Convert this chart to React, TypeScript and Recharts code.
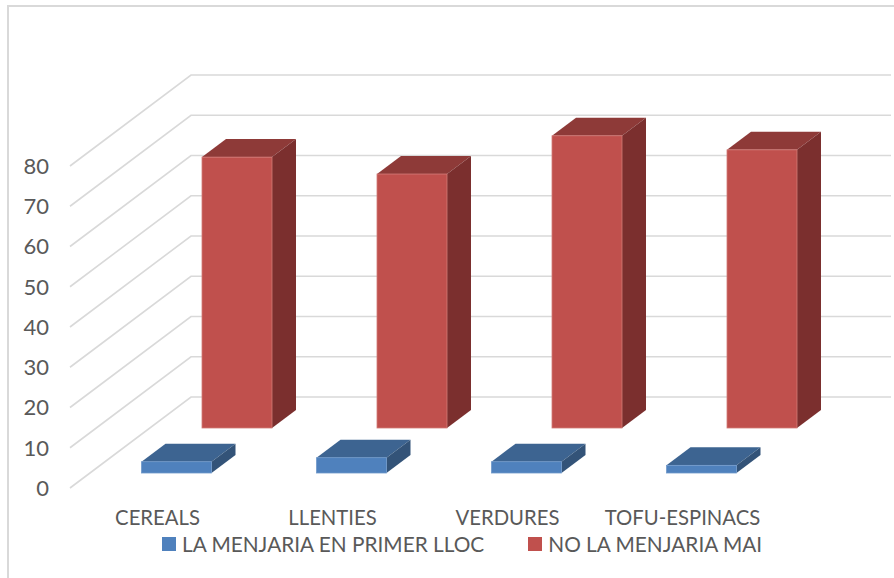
import React from "react";
import { BarChart, Bar, XAxis, YAxis, CartesianGrid, Legend } from "recharts";

const categories = ["CEREALS", "LLENTIES", "VERDURES", "TOFU-ESPINACS"];
const firstChoice = [2.8, 3.8, 2.8, 1.9];
const neverEat = [67.3, 63.1, 72.6, 69.1];
const yTicks = [0, 10, 20, 30, 40, 50, 60, 70, 80];
const seriesNames = ["LA MENJARIA EN PRIMER LLOC", "NO LA MENJARIA MAI"];

const rows = categories.map((name, i) => ({ name, first: firstChoice[i], never: neverEat[i] }));

const FONT = "Lato, Carlito, sans-serif";
const TEXT = "#595959";
const GRID = "#d9d9d9";
const BACK_DX = 121;
const BACK_DY = -91;
const BACK_RIGHT = 891;
const DEPTH_X = 24;
const DEPTH_Y = -18;

const gridLine = (p: any) => {
  const bx = p.x1 + BACK_DX;
  const by = p.y1 + BACK_DY;
  return (
    <path
      key={p.key ?? p.y1}
      d={`M${p.x1},${p.y1} L${bx},${by} L${BACK_RIGHT},${by}`}
      fill="none"
      stroke={GRID}
      strokeWidth={1.6}
    />
  );
};

const box3d =
  (dx: number, dy: number, front: string, top: string, side: string, edge: string) =>
  (p: any) => {
    const x = p.x + dx;
    const y = p.y + dy;
    const w = p.width;
    const h = p.height;
    return (
      <g>
        <polygon
          points={`${x},${y} ${x + DEPTH_X},${y + DEPTH_Y} ${x + w + DEPTH_X},${y + DEPTH_Y} ${x + w},${y}`}
          fill={top}
        />
        <polygon
          points={`${x + w},${y} ${x + w + DEPTH_X},${y + DEPTH_Y} ${x + w + DEPTH_X},${y + h + DEPTH_Y} ${x + w},${y + h}`}
          fill={side}
        />
        <rect x={x} y={y} width={w} height={h} fill={front} stroke={edge} strokeWidth={0.8} />
      </g>
    );
  };

const blueShape = box3d(18.5, -15, "#4f81bd", "#3d6491", "#335378", "#6f98ca");
const redShape = box3d(79, -60, "#c0504d", "#8e3a38", "#7b2f2e", "#d27a77");

const legendContent = (props: any) => (
  <div style={{ display: "flex", fontFamily: FONT, fontSize: 20.8, color: TEXT, lineHeight: "24px" }}>
    {(props.payload ?? []).map((e: any, i: number) => (
      <div key={e.value} style={{ display: "flex", alignItems: "center", marginRight: i === 0 ? 44 : 0 }}>
        <span style={{ width: 14, height: 14, background: e.color, marginRight: 6, display: "inline-block" }} />
        <span style={{ whiteSpace: "nowrap" }}>{e.value}</span>
      </div>
    ))}
  </div>
);

export default function App() {
  return (
    <div style={{ position: "absolute", left: 0, top: 0, width: 894, height: 578, overflow: "hidden", background: "#fff" }}>
      <div
        style={{
          position: "absolute",
          left: 7,
          top: 5,
          width: 920,
          height: 620,
          border: `2px solid ${GRID}`,
        }}
      />
      <div style={{ position: "absolute", left: 0, top: 0 }}>
        <BarChart
          width={894}
          height={578}
          data={rows}
          margin={{ left: 0, right: 124, top: 166, bottom: 0 }}
          barSize={70}
          barGap={-70}
        >
          <CartesianGrid vertical={false} horizontal={gridLine} />
          <XAxis
            dataKey="name"
            height={90}
            axisLine={false}
            tickLine={false}
            tickSize={0}
            tickMargin={23}
            interval={0}
            tick={{ fill: TEXT, fontSize: 20.3, fontFamily: FONT }}
          />
          <YAxis
            width={70}
            domain={[0, 80]}
            ticks={yTicks}
            axisLine={false}
            tickLine={false}
            tickSize={0}
            tickMargin={21}
            tick={{ fill: TEXT, fontSize: 22, fontFamily: FONT }}
          />
          <Bar dataKey="first" name={seriesNames[0]} fill="#4f81bd" shape={blueShape} isAnimationActive={false} />
          <Bar dataKey="never" name={seriesNames[1]} fill="#c0504d" shape={redShape} isAnimationActive={false} />
          <Legend
            content={legendContent}
            wrapperStyle={{ position: "absolute", left: 162, top: 532, width: 700, height: 0, bottom: "auto" }}
          />
        </BarChart>
      </div>
    </div>
  );
}
